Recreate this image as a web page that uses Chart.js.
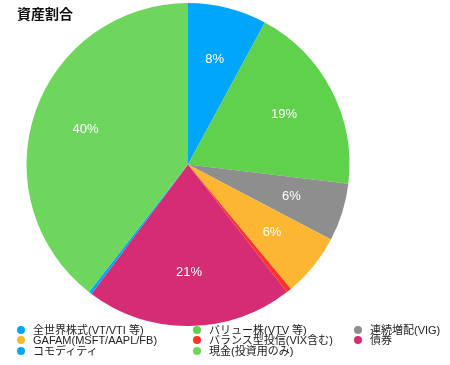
<!DOCTYPE html>
<html>
<head>
<meta charset="utf-8">
<script src="https://cdn.jsdelivr.net/npm/chart.js@4"></script>
<style>
  body { margin: 0; background: #fff; width: 450px; height: 365px; overflow: hidden; position: relative; }
  #title { position: absolute; left: 17px; top: 3px; font: bold 14px "Noto Sans CJK JP", sans-serif; color: #111; z-index: 2; }
  #wrap { position: absolute; left: 0; top: 0; width: 376px; height: 326px; }
  #legend { position: absolute; left: 17px; top: 325px; display: grid;
    grid-template-columns: 176px 161px auto; font: 11px "Liberation Sans", "Noto Sans CJK JP", sans-serif;
    line-height: 10.3px; color: #222; }
  #legend span.item { white-space: nowrap; display: flex; align-items: center; }
  #legend i { display: inline-block; width: 8px; height: 8px; border-radius: 50%; margin-right: 8px; }
</style>
</head>
<body>
<div id="title">資産割合</div>
<div id="wrap"><canvas id="pie"></canvas></div>
<div id="legend"></div>
<script>
// 資産割合 (%)
const kategori = ["全世界株式(VT/VTI 等)", "バリュー株(VTV 等)", "連続増配(VIG)", "GAFAM(MSFT/AAPL/FB)",
  "バランス型投信(VIX含む)", "債券", "コモディティ", "現金(投資用のみ)"];
const nilai = [7.9, 19.0, 5.8, 6.3, 0.5, 20.7, 0.3, 39.5];
const warna = ["#00a6fb", "#5fd14c", "#8e8e8e", "#fdb631", "#fe3524", "#d62c74", "#00a6fb", "#6ed65c"];

// label persen di dalam irisan
const labelPersen = {
  id: "labelPersen",
  afterDatasetsDraw(chart) {
    const ctx = chart.ctx;
    const total = nilai.reduce((a, b) => a + b, 0);
    chart.getDatasetMeta(0).data.forEach((arc, i) => {
      const pct = nilai[i] / total * 100;
      if (pct < 3) return;
      const p = arc.getProps(["x", "y", "startAngle", "endAngle", "outerRadius"], true);
      const mid = (p.startAngle + p.endAngle) / 2;
      const r = p.outerRadius * 0.67;
      ctx.save();
      ctx.fillStyle = "#fff";
      ctx.font = "13px 'Liberation Sans', sans-serif";
      ctx.textAlign = "center";
      ctx.textBaseline = "middle";
      ctx.fillText(Math.round(pct) + "%", p.x + Math.cos(mid) * r, p.y + Math.sin(mid) * r);
      ctx.restore();
    });
  }
};

const ctx = document.getElementById("pie").getContext("2d");
const chart = new Chart(ctx, {
  type: "pie",
  data: {
    labels: kategori,
    datasets: [{ data: nilai, backgroundColor: warna, borderWidth: 0 }]
  },
  options: {
    responsive: true,
    maintainAspectRatio: false,
    animation: false,
    layout: { padding: { top: 3 } },
    plugins: { legend: { display: false }, tooltip: { enabled: false } }
  },
  plugins: [labelPersen]
});

// legenda HTML, 3 kolom
document.getElementById("legend").innerHTML = kategori.map((k, i) =>
  `<span class="item"><i style="background:${warna[i]}"></i>${k}</span>`).join("");
</script>
</body>
</html>
